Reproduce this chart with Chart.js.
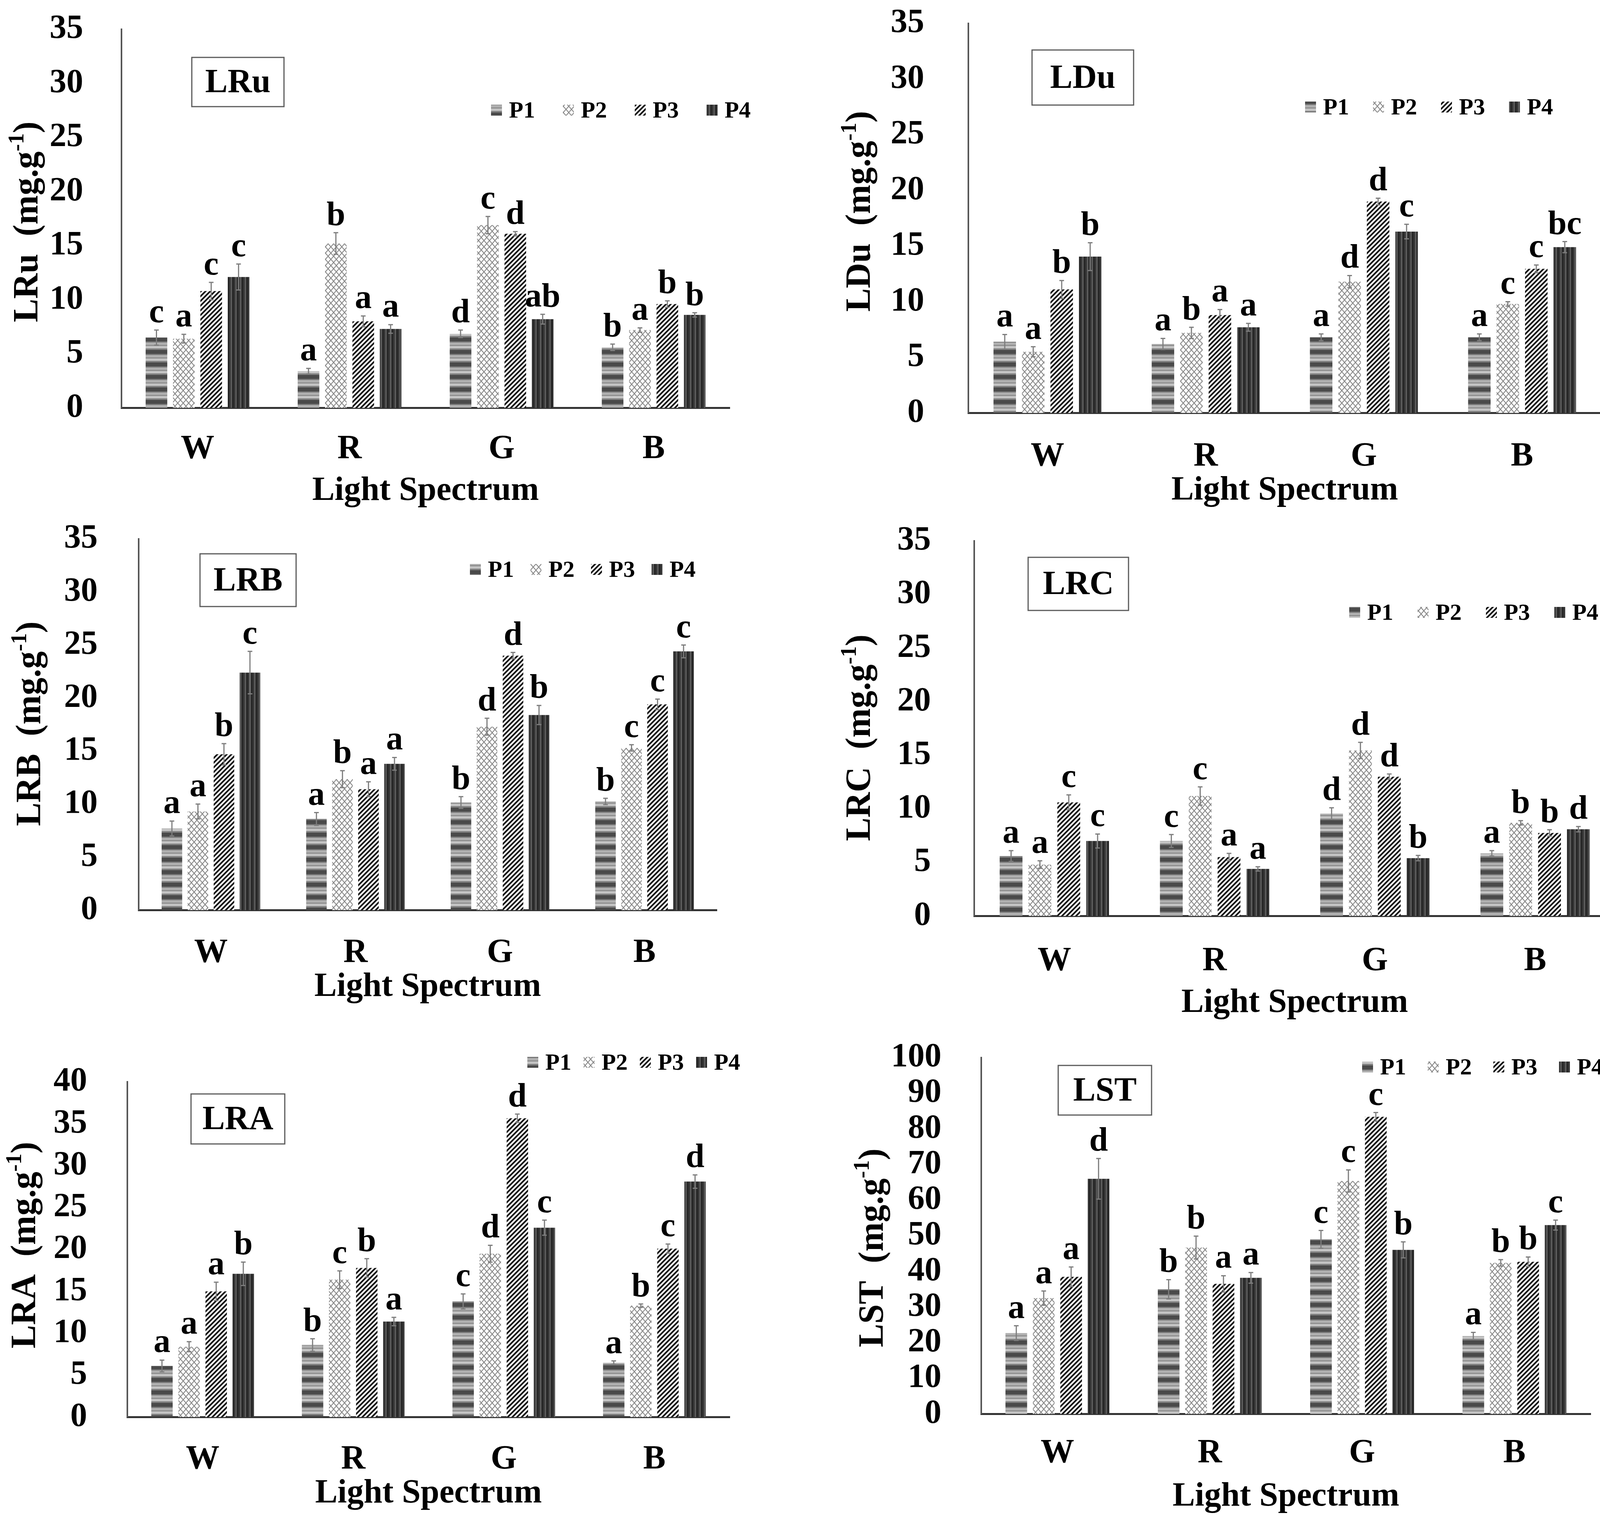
<!DOCTYPE html>
<html>
<head>
<meta charset="utf-8">
<script src="https://cdn.jsdelivr.net/npm/chart.js@4.4.1/dist/chart.umd.min.js"></script>
<style>
  html, body { margin: 0; padding: 0; background: #fff; }
  #page { position: relative; width: 4168px; height: 3897px; overflow: hidden; background: #fff; }
  .panel { position: absolute; }
</style>
</head>
<body>
<div id="page"></div>
<script>
// light spectrum groups and the four treatments
const categories = ['W', 'R', 'G', 'B'];
const seriesNames = ['P1', 'P2', 'P3', 'P4'];

// one row per treatment (P1..P4), one column per category (W R G B)
const lruMeans   = [[6.5, 3.4, 6.85, 5.6], [6.4, 15.2, 16.9, 7.2], [10.8, 8.0, 16.1, 9.6], [12.1, 7.3, 8.2, 8.6]];
const lruErrors  = [[0.7, 0.25, 0.35, 0.3], [0.4, 1.0, 0.8, 0.2], [0.8, 0.5, 0.2, 0.3], [1.2, 0.4, 0.45, 0.2]];
const lruLetters = [['c', 'a', 'd', 'b'], ['a', 'b', 'c', 'a'], ['c', 'a', 'd', 'b'], ['c', 'a', 'ab', 'b']];

const lduMeans   = [[6.4, 6.2, 6.8, 6.8], [5.5, 7.2, 11.8, 9.8], [11.1, 8.8, 19.0, 12.95], [14.05, 7.7, 16.3, 14.9]];
const lduErrors  = [[0.65, 0.5, 0.3, 0.3], [0.45, 0.5, 0.55, 0.2], [0.8, 0.5, 0.3, 0.35], [1.25, 0.35, 0.65, 0.5]];
const lduLetters = [['a', 'a', 'a', 'a'], ['a', 'b', 'd', 'c'], ['b', 'a', 'd', 'c'], ['b', 'a', 'c', 'bc']];

const lrbMeans   = [[7.7, 8.6, 10.15, 10.25], [9.3, 12.35, 17.3, 15.3], [14.7, 11.4, 24.0, 19.4], [22.4, 13.8, 18.4, 24.4]];
const lrbErrors  = [[0.7, 0.6, 0.55, 0.3], [0.7, 0.8, 0.8, 0.3], [1.0, 0.7, 0.3, 0.5], [2.0, 0.6, 0.9, 0.6]];
const lrbLetters = [['a', 'a', 'b', 'b'], ['a', 'b', 'd', 'c'], ['b', 'a', 'd', 'c'], ['c', 'a', 'b', 'c']];

const lrcMeans   = [[5.6, 7.0, 9.55, 5.85], [4.8, 11.2, 15.45, 8.7], [10.6, 5.5, 13.0, 7.75], [7.0, 4.4, 5.4, 8.1]];
const lrcErrors  = [[0.5, 0.6, 0.55, 0.25], [0.35, 0.85, 0.75, 0.2], [0.7, 0.35, 0.25, 0.3], [0.65, 0.2, 0.25, 0.25]];
const lrcLetters = [['a', 'c', 'd', 'a'], ['a', 'c', 'd', 'b'], ['c', 'a', 'd', 'b'], ['c', 'a', 'b', 'd']];

const lraMeans   = [[6.1, 8.6, 13.8, 6.5], [8.4, 16.4, 19.5, 13.3], [15.0, 17.8, 35.65, 20.1], [17.1, 11.4, 22.6, 28.1]];
const lraErrors  = [[0.7, 0.75, 0.9, 0.2], [0.6, 1.05, 1.0, 0.2], [1.1, 1.1, 0.5, 0.55], [1.4, 0.5, 0.9, 0.8]];
const lraLetters = [['a', 'b', 'c', 'a'], ['a', 'c', 'd', 'b'], ['a', 'b', 'd', 'c'], ['b', 'a', 'c', 'd']];

const lstMeans   = [[22.7, 35.0, 49.0, 21.85], [32.5, 46.7, 65.4, 42.4], [38.5, 36.5, 83.4, 42.7], [66.0, 38.2, 46.05, 53.0]];
const lstErrors  = [[2.05, 2.7, 2.5, 1.05], [2.0, 3.2, 3.1, 0.9], [2.75, 2.3, 1.2, 1.35], [5.7, 1.5, 2.25, 1.4]];
const lstLetters = [['a', 'b', 'c', 'a'], ['a', 'b', 'c', 'b'], ['a', 'a', 'c', 'b'], ['d', 'a', 'b', 'c']];

const FONT = "'Liberation Serif', 'Times New Roman', Times, serif";

// placement of each panel on the page (page pixels)
const panels = [
  { name: 'LRu', means: lruMeans, errors: lruErrors, letters: lruLetters, max: 35, step: 5,
    cl: 0, ct: 0, left: 311, right: 1868, top: 75, bottom: 1044, tickGap: 98, catY: 1150, titleY: 1257,
    yTitle: [66, 568], box: [491, 147, 236, 126], legend: [1257, 282, 184] },
  { name: 'LDu', means: lduMeans, errors: lduErrors, letters: lduLetters, max: 35, step: 5,
    cl: 2084, ct: 0, left: 2479, right: 4099, top: 60, bottom: 1057, tickGap: 113, catY: 1169, titleY: 1256,
    yTitle: [2197, 541], box: [2642, 128, 260, 141], legend: [3341, 274, 174] },
  { name: 'LRB', means: lrbMeans, errors: lrbErrors, letters: lrbLetters, max: 35, step: 5,
    cl: 0, ct: 1300, left: 355, right: 1835, top: 1380, bottom: 2330, tickGap: 105, catY: 2440, titleY: 2527,
    yTitle: [73, 1853], box: [512, 1418, 246, 135], legend: [1203, 1458, 155] },
  { name: 'LRC', means: lrcMeans, errors: lrcErrors, letters: lrcLetters, max: 35, step: 5,
    cl: 2084, ct: 1300, left: 2494, right: 4135, top: 1385, bottom: 2345, tickGap: 111, catY: 2461, titleY: 2568,
    yTitle: [2197, 1889], box: [2632, 1427, 257, 136], legend: [3454, 1568, 175] },
  { name: 'LRA', means: lraMeans, errors: lraErrors, letters: lraLetters, max: 40, step: 5,
    cl: 0, ct: 2600, left: 326, right: 1868, top: 2770, bottom: 3628, tickGap: 103, catY: 3737, titleY: 3824,
    yTitle: [60, 3188], box: [489, 2801, 240, 128], legend: [1350, 2720, 144] },
  { name: 'LST', means: lstMeans, errors: lstErrors, letters: lstLetters, max: 100, step: 10,
    cl: 2084, ct: 2600, left: 2512, right: 4072, top: 2708, bottom: 3620, tickGap: 102, catY: 3721, titleY: 3832,
    yTitle: [2230, 3195], box: [2709, 2728, 239, 127], legend: [3487, 2732, 168] }
];

// fill patterns, one per treatment
function tile(w, h, draw) {
  const c = document.createElement('canvas');
  c.width = w; c.height = h;
  draw(c.getContext('2d'), w, h);
  return c.getContext('2d').createPattern(c, 'repeat');
}

const patterns = [
  // P1: horizontal grey bands
  tile(4, 32, g => {
    [[0, 10, '#4a4a4a'], [10, 3, '#777'], [13, 6, '#b0b0b0'], [19, 3, '#8e8e8e'], [22, 6, '#c4c4c4'], [28, 4, '#808080']]
      .forEach(([y, h, col]) => { g.fillStyle = col; g.fillRect(0, y, 4, h); });
  }),
  // P2: light grey zigzag lattice
  tile(14, 16, (g, w, h) => {
    g.fillStyle = '#fff'; g.fillRect(0, 0, w, h);
    g.strokeStyle = '#8a8a8a'; g.lineWidth = 2.2;
    g.beginPath();
    g.moveTo(0, 0); g.lineTo(w, h);
    g.moveTo(w, 0); g.lineTo(0, h);
    g.stroke();
  }),
  // P3: black diagonal hatch
  tile(12, 12, (g, w, h) => {
    g.fillStyle = '#fff'; g.fillRect(0, 0, w, h);
    g.strokeStyle = '#111'; g.lineWidth = 4.2;
    g.beginPath();
    g.moveTo(-6, 6); g.lineTo(6, -6);
    g.moveTo(0, h); g.lineTo(w, 0);
    g.moveTo(6, 18); g.lineTo(18, 6);
    g.stroke();
  }),
  // P4: dark with vertical streaks
  tile(12, 4, g => {
    g.fillStyle = '#383838'; g.fillRect(0, 0, 12, 4);
    g.fillStyle = '#6e6e6e'; g.fillRect(3, 0, 2, 4);
    g.fillStyle = '#1c1c1c'; g.fillRect(8, 0, 2, 4);
  })
];

// error bars, letters, title box, legend and y title
function makeDecor(p) {
  return {
    id: 'decor',
    afterDatasetsDraw(chart) {
      const { ctx } = chart;
      const y = chart.scales.y;
      chart.data.datasets.forEach((ds, i) => {
        chart.getDatasetMeta(i).data.forEach((bar, j) => {
          const v = ds.data[j];
          const e = p.errors[i][j];
          const yTop = y.getPixelForValue(v + e);
          const yBot = y.getPixelForValue(v - e);
          ctx.save();
          ctx.strokeStyle = '#7d7d7d';
          ctx.lineWidth = 3;
          ctx.beginPath();
          ctx.moveTo(bar.x, yTop); ctx.lineTo(bar.x, yBot);
          ctx.moveTo(bar.x - 6, yTop); ctx.lineTo(bar.x + 6, yTop);
          ctx.moveTo(bar.x - 6, yBot); ctx.lineTo(bar.x + 6, yBot);
          ctx.stroke();
          ctx.fillStyle = '#000';
          ctx.font = `bold 86px ${FONT}`;
          ctx.textAlign = 'center';
          ctx.textBaseline = 'alphabetic';
          ctx.fillText(p.letters[i][j], bar.x, yTop - 20);
          ctx.restore();
        });
      });
    },
    afterDraw(chart) {
      const { ctx } = chart;
      ctx.save();
      // boxed panel title
      const [bx, by, bw, bh] = p.box;
      ctx.strokeStyle = '#5a5a5a';
      ctx.lineWidth = 3;
      ctx.strokeRect(bx - p.cl, by - p.ct, bw, bh);
      ctx.fillStyle = '#000';
      ctx.font = `bold 86px ${FONT}`;
      ctx.textAlign = 'center';
      ctx.textBaseline = 'middle';
      ctx.fillText(p.name, bx - p.cl + bw / 2, by - p.ct + bh / 2 + 4);

      // legend
      const [lx, ly, pitch] = p.legend;
      ctx.font = `bold 60px ${FONT}`;
      ctx.textAlign = 'left';
      seriesNames.forEach((s, i) => {
        const x = lx - p.cl + i * pitch;
        const yy = ly - p.ct;
        ctx.fillStyle = patterns[i];
        ctx.fillRect(x, yy - 14, 28, 28);
        ctx.fillStyle = '#000';
        ctx.fillText(s, x + 46, yy + 3);
      });

      // rotated y title with superscript
      const size = 90, supSize = 56;
      const main = `${p.name}  (mg.g`, sup = '-1', tail = ')';
      ctx.translate(p.yTitle[0] - p.cl, p.yTitle[1] - p.ct);
      ctx.rotate(-Math.PI / 2);
      ctx.textBaseline = 'alphabetic';
      ctx.font = `bold ${size}px ${FONT}`;
      const wMain = ctx.measureText(main).width;
      const wTail = ctx.measureText(tail).width;
      ctx.font = `bold ${supSize}px ${FONT}`;
      const wSup = ctx.measureText(sup).width;
      const x0 = -(wMain + wSup + wTail) / 2;
      const base = size * 0.33;
      ctx.fillStyle = '#000';
      ctx.font = `bold ${size}px ${FONT}`;
      ctx.fillText(main, x0, base);
      ctx.font = `bold ${supSize}px ${FONT}`;
      ctx.fillText(sup, x0 + wMain, base - size * 0.4);
      ctx.font = `bold ${size}px ${FONT}`;
      ctx.fillText(tail, x0 + wMain + wSup, base);
      ctx.restore();
    }
  };
}

const page = document.getElementById('page');

panels.forEach(p => {
  const width = 2084;
  const height = Math.round(p.titleY + 52 - p.ct);
  const holder = document.createElement('div');
  holder.className = 'panel';
  holder.style.left = p.cl + 'px';
  holder.style.top = p.ct + 'px';
  holder.style.width = width + 'px';
  holder.style.height = height + 'px';
  const canvas = document.createElement('canvas');
  canvas.width = width;
  canvas.height = height;
  canvas.style.width = width + 'px';
  canvas.style.height = height + 'px';
  holder.appendChild(canvas);
  page.appendChild(holder);

  const tickFont = { family: FONT, size: 86, weight: 'bold', lineHeight: 1.2 };

  new Chart(canvas, {
    type: 'bar',
    data: {
      labels: categories,
      datasets: seriesNames.map((name, i) => ({
        label: name,
        data: p.means[i],
        backgroundColor: patterns[i],
        borderWidth: 0,
        barPercentage: 0.79,
        categoryPercentage: 0.72
      }))
    },
    options: {
      responsive: false,
      animation: false,
      devicePixelRatio: 1,
      layout: { padding: { left: 0, top: p.top - p.ct, right: p.cl + width - p.right, bottom: 0 } },
      plugins: { legend: { display: false }, tooltip: { enabled: false } },
      scales: {
        x: {
          grid: { display: false, drawTicks: false },
          border: { display: true, color: '#333', width: 5 },
          ticks: { font: tickFont, color: '#000', padding: p.catY - p.bottom - 51.6 },
          title: { display: true, text: 'Light Spectrum', color: '#000', padding: 0,
                   font: { family: FONT, size: 86, weight: 'bold', lineHeight: 1.2 } },
          afterFit: s => {
            s.height = p.titleY + 51.6 - p.bottom;
            s.paddingLeft = 0; s.paddingRight = 0;
          }
        },
        y: {
          min: 0,
          max: p.max,
          ticks: { stepSize: p.step, autoSkip: false, font: tickFont, color: '#000', padding: p.tickGap },
          grid: { display: false, drawTicks: false },
          border: { display: true, color: '#555', width: 4 },
          // keep the tick padding from pushing the plot area down
          afterFit: s => {
            s.width = p.left - p.cl;
            s.paddingTop = 0; s.paddingBottom = 0;
          }
        }
      }
    },
    plugins: [makeDecor(p)]
  });
});
</script>
</body>
</html>
